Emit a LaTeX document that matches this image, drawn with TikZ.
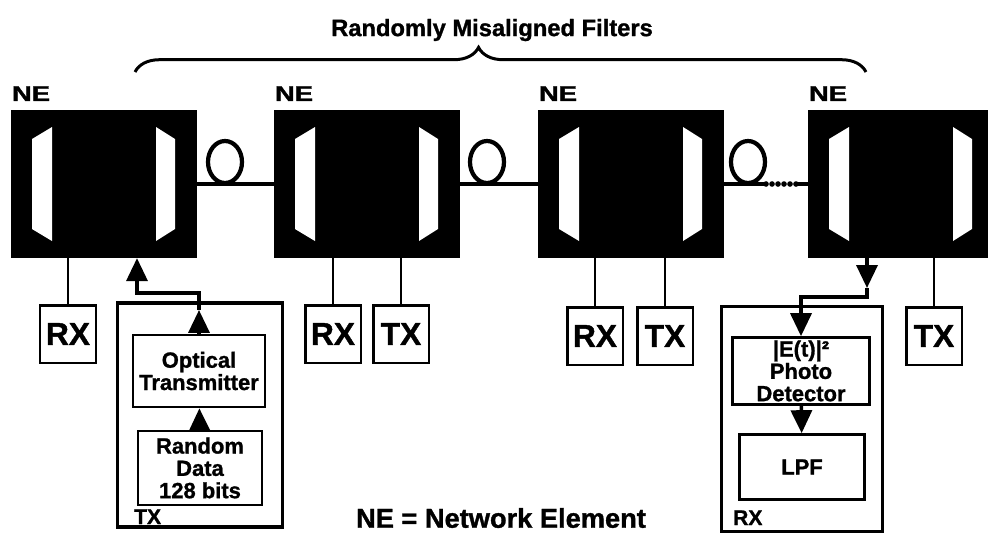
\documentclass[tikz,border=0pt]{standalone}
\usepackage{fontspec}
\setmainfont{Liberation Sans}[BoldFeatures={FakeBold=1.2}]
\usetikzlibrary{arrows.meta,decorations.pathreplacing}

\begin{document}
\begin{tikzpicture}[x=0.02cm, y=-0.02cm, line width=1.3pt,
  nebox/.style={fill=black, draw=black, minimum width=3.68cm, minimum height=2.92cm, inner sep=0},
  unit/.style={draw, line width=1.7pt, minimum width=1.12cm, minimum height=1.16cm, inner sep=0,
    font=\bfseries\fontsize{18}{18}\selectfont},
  block/.style={draw, line width=1.5pt, inner sep=0, align=center,
    font=\bfseries\fontsize{12.5}{12.7}\selectfont},
  frame/.style={draw, line width=1.9pt, inner sep=0},
  fiber/.style={line width=2.2pt},
  flow/.style={line width=2pt, -{Triangle[length=0.46cm, width=0.42cm]}},
  tag/.style={font=\bfseries\fontsize{12}{12}\selectfont, inner sep=0}]
  \useasboundingbox (0,0) rectangle (988,534);
  % network elements
  \node[nebox] (ne1) at (104,184) {};
  \node[nebox] (ne2) at (367,184) {};
  \node[nebox] (ne3) at (631,184) {};
  \node[nebox] (ne4) at (901,184) {};
  % filters and labels
  \foreach \n in {ne1,ne2,ne3,ne4}{
    \fill[white, shift={(\n)}] (-72,-45) -- (-52,-57) -- (-52,57) -- (-72,45) -- cycle;
    \fill[white, shift={(\n)}] (71,-45) -- (52,-57) -- (52,57) -- (71,45) -- cycle;
    \node[tag, anchor=base west] (\n-lbl) at ([yshift=0.18cm]\n.north west) {\scalebox{1.3}[1]{NE}};
  }
  % fibre between the elements
  \coordinate (dots1) at (766,184);
  \coordinate (dots2) at (798,184);
  \draw[fiber] (ne1.east) -- (ne2.west);
  \draw[fiber] (ne2.east) -- (ne3.west);
  \draw[fiber] (ne3.east) -- (dots1);
  \draw[line width=3.2pt, line cap=round, dash pattern=on 0pt off 0.12cm] (dots1) -- (dots2);
  \draw[fiber] (dots2) -- (ne4.west);
  % spools
  \foreach \s/\x in {sp1/225, sp2/487, sp3/748}{
    \coordinate (\s) at (\x,162);
    \draw[line width=2.4pt] (\s) ellipse [x radius=17, y radius=21];
  }
  % brace and title
  \coordinate (brl) at (135,72);
  \coordinate (brr) at (866,72);
  \draw[line width=1.7pt, decorate, decoration={brace, amplitude=14pt, aspect=0.47}] (brl) -- (brr);
  \node[font=\bfseries\fontsize{13.5}{14}\selectfont] (title) at (492,30) {Randomly Misaligned Filters};
  % add/drop ports
  \node[unit] (rx1) at (68,334) {RX};
  \node[unit] (rx2) at (333,334) {RX};
  \node[unit] (tx2) at (401,334) {TX};
  \node[unit] (rx3) at (595,336) {RX};
  \node[unit] (tx3) at (665,336) {TX};
  \node[unit] (tx4) at (934,336) {TX};
  \foreach \u/\e in {rx1/ne1, rx2/ne2, tx2/ne2, rx3/ne3, tx3/ne3, tx4/ne4}{
    \draw (\u) -- (\u |- \e.south);
  }
  % transmitter
  \node[frame, minimum width=3.3cm, minimum height=4.48cm] (txbox) at (200,415) {};
  \node[block, minimum width=2.64cm, minimum height=1.44cm] (opt) at (199,371) {Optical\\Transmitter};
  \node[block, minimum width=2.48cm, minimum height=1.48cm] (rd) at (200,468) {Random\\Data\\128 bits};
  \node[tag, anchor=base west] (txtag) at (133,524) {TX};
  \coordinate (txmid) at (199,310);
  \coordinate (txtap) at (137,293);
  \draw[flow] (rd) -- (opt);
  \draw[flow] (opt) -- (txmid);
  \draw[flow] (txmid) |- (txtap) -- (txtap |- ne1.south);
  % receiver
  \node[frame, minimum width=3.22cm, minimum height=4.5cm] (rxbox) at (802,419) {};
  \node[block, minimum width=2.74cm, minimum height=1.34cm] (pd) at (801,371) {|E(t)|²\\Photo\\Detector};
  \node[block, minimum width=2.5cm, minimum height=1.3cm] (lpf) at (802,467) {LPF};
  \node[tag, anchor=base west] (rxtag) at (732,525) {RX};
  \coordinate (rxmid) at (867,288);
  \coordinate (rxtap) at (867,297);
  \draw[flow] (rxmid |- ne4.south) -- (rxmid);
  \draw[flow] (rxmid) -- (rxtap) -| (pd);
  \draw[flow] (pd) -- (lpf);
  % legend
  \node[font=\bfseries\fontsize{15.5}{16}\selectfont] (legend) at (501,518) {NE = Network Element};
\end{tikzpicture}
\end{document}
